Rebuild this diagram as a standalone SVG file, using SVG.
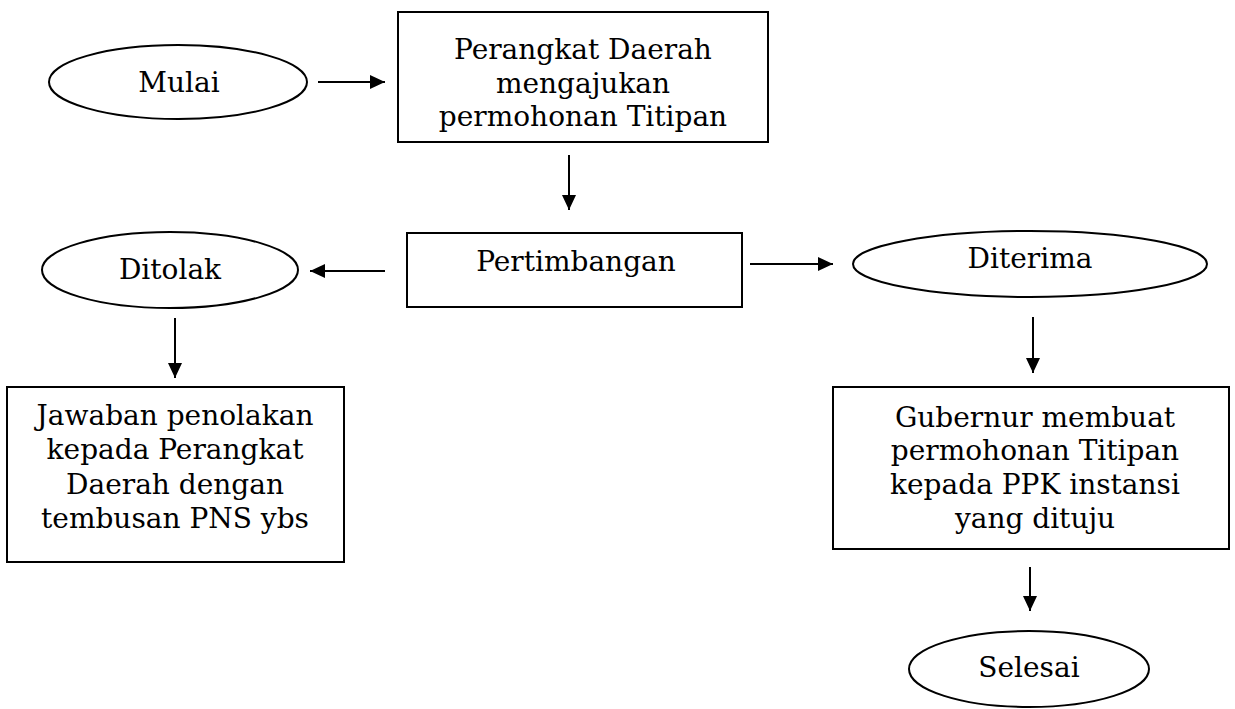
<svg xmlns="http://www.w3.org/2000/svg" width="1235" height="709" viewBox="0 0 1235 709">
<style>
.shape{fill:#fff;stroke:#000;stroke-width:2}
.t{font-family:"DejaVu Serif","Liberation Serif",serif;font-size:28px;fill:#000;text-anchor:middle}
.c{stroke:#000;stroke-width:2;fill:none;marker-end:url(#ah)}
</style>
<defs>
<marker id="ah" markerUnits="userSpaceOnUse" markerWidth="16" markerHeight="16" viewBox="0 0 16 16" refX="15" refY="8" orient="auto">
<path d="M0,1 L15,8 L0,15 Z" fill="#000"/>
</marker>
</defs>
<rect width="1235" height="709" fill="#fff"/>
<g id="connectors">
<line class="c" x1="318" y1="82" x2="385" y2="82"/>
<line class="c" x1="569" y1="155" x2="569" y2="210"/>
<line class="c" x1="385" y1="271" x2="310" y2="271"/>
<line class="c" x1="750" y1="264" x2="833" y2="264"/>
<line class="c" x1="175" y1="318" x2="175" y2="378"/>
<line class="c" x1="1033" y1="317" x2="1033" y2="373"/>
<line class="c" x1="1030" y1="567" x2="1030" y2="611"/>
</g>
<g id="mulai">
<ellipse class="shape" cx="178" cy="82" rx="129" ry="37"/>
<text class="t" x="179" y="92">Mulai</text>
</g>
<g id="pengajuan">
<rect class="shape" x="398" y="12" width="370" height="130"/>
<text class="t" x="583" y="59">Perangkat Daerah</text>
<text class="t" x="583" y="92.5">mengajukan</text>
<text class="t" x="583" y="126">permohonan Titipan</text>
</g>
<g id="pertimbangan">
<rect class="shape" x="407" y="233" width="335" height="74"/>
<text class="t" x="576" y="271">Pertimbangan</text>
</g>
<g id="ditolak">
<ellipse class="shape" cx="170" cy="270" rx="128" ry="38"/>
<text class="t" x="170" y="279">Ditolak</text>
</g>
<g id="diterima">
<ellipse class="shape" cx="1030" cy="264" rx="177" ry="33"/>
<text class="t" x="1030" y="268">Diterima</text>
</g>
<g id="jawaban">
<rect class="shape" x="7" y="387" width="337" height="175"/>
<text class="t" x="175" y="425">Jawaban penolakan</text>
<text class="t" x="175" y="459">kepada Perangkat</text>
<text class="t" x="175" y="494">Daerah dengan</text>
<text class="t" x="175" y="528">tembusan PNS ybs</text>
</g>
<g id="gubernur">
<rect class="shape" x="833" y="387" width="396" height="162"/>
<text class="t" x="1035" y="427">Gubernur membuat</text>
<text class="t" x="1035" y="460">permohonan Titipan</text>
<text class="t" x="1035" y="494">kepada PPK instansi</text>
<text class="t" x="1035" y="528">yang dituju</text>
</g>
<g id="selesai">
<ellipse class="shape" cx="1029" cy="669" rx="120" ry="38"/>
<text class="t" x="1029" y="677">Selesai</text>
</g>
</svg>
